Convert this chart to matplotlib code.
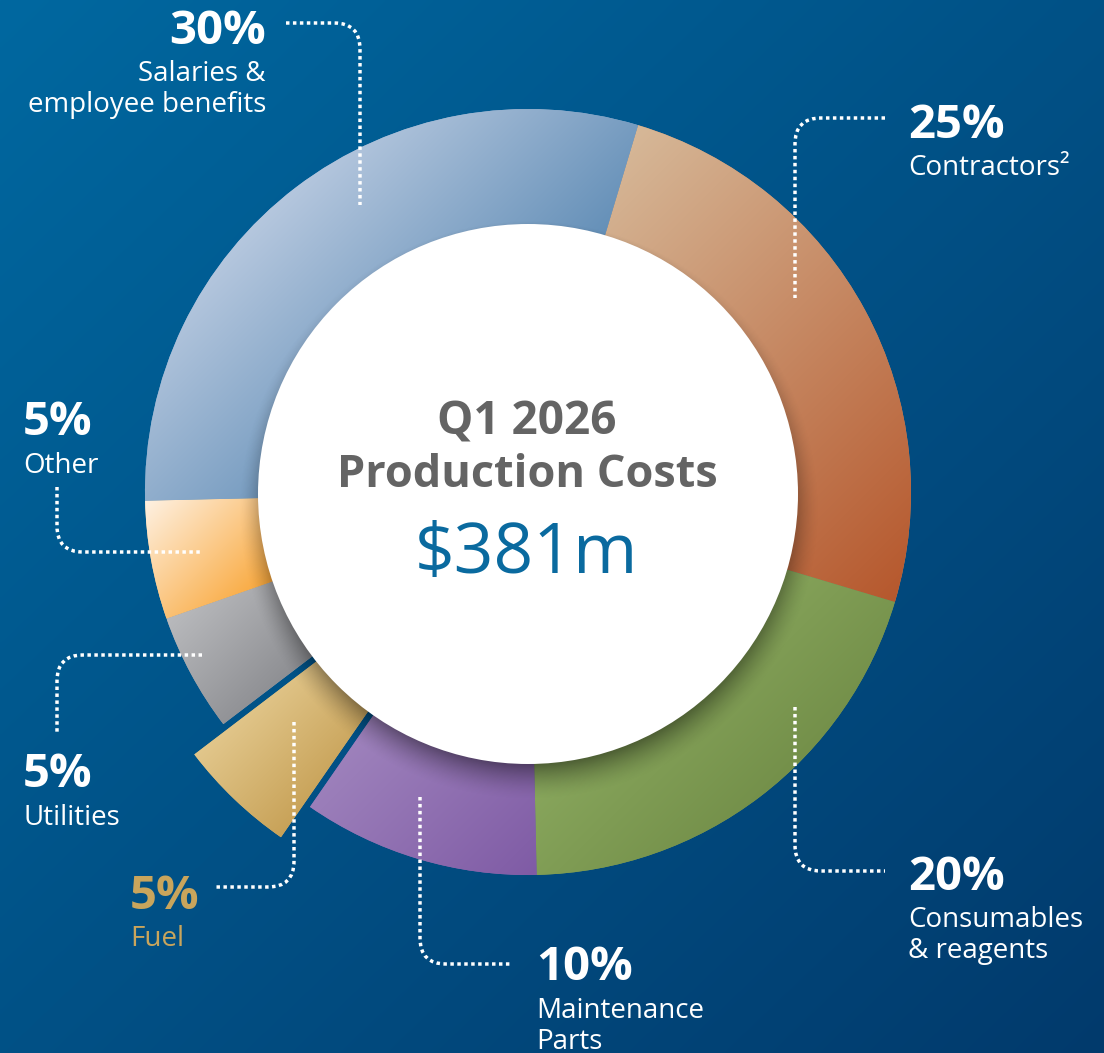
import numpy as np
import matplotlib
matplotlib.use('Agg')
import matplotlib.pyplot as plt
from matplotlib.path import Path
from matplotlib.patches import PathPatch, Circle
from matplotlib.colors import to_rgb

# ---------------- data ----------------
categories = ['Contractors', 'Consumables & reagents', 'Maintenance Parts', 'Fuel',
              'Utilities', 'Other', 'Salaries & employee benefits']
shares = [25, 20, 10, 5, 5, 5, 30]
pct_labels = ['25%', '20%', '10%', '5%', '5%', '5%', '30%']
label_lines = [['Contractors²'], ['Consumables', '& reagents'], ['Maintenance', 'Parts'],
               ['Fuel'], ['Utilities'], ['Other'], ['Salaries &', 'employee benefits']]
title_lines = ['Q1 2026', 'Production Costs']
total_label = '$381m'

# ---------------- style ----------------
W, H = 1104, 1053
FONT = ['Open Sans', 'DejaVu Sans']
plt.rcParams['font.family'] = FONT

grad_colors = [('#d6b898', '#b6582d'),   # contractors
               ('#8aa85e', '#74904a'),   # consumables
               ('#9e82bc', '#7f5ba5'),   # maintenance
               ('#e2c78c', '#c8a258'),   # fuel
               ('#b9babd', '#8d8e92'),   # utilities
               ('#fef1e2', '#f9a83c'),   # other
               ('#b5c7de', '#6590b8')]   # salaries
explode = [0, 0, 0, 42, 0, 0, 0]   # pixels (pie explode is in data units)
CX, CY, R = 528, 492, 383
R_IN = 270


def Y(y):
    return H - y


fig = plt.figure(figsize=(W / 100, H / 100), dpi=100)
ax = fig.add_axes([0, 0, 1, 1])

# background gradient
yy, xx = np.mgrid[0:H:3, 0:W:3].astype(float)
t = np.clip(xx / W * 0.5 + yy / H * 0.5, 0, 1)
c0 = np.array(to_rgb('#0068a0'))
c1 = np.array(to_rgb('#023a6c'))
bg = c0 + (c1 - c0) * t[..., None]
ax.imshow(bg, extent=(0, W, 0, H), origin='upper', zorder=0,
          interpolation='bilinear', aspect='auto')

# pie
wedges, _ = ax.pie(shares, radius=R, center=(CX, Y(CY)), startangle=73.3,
                   counterclock=False, explode=explode,
                   wedgeprops=dict(linewidth=0, edgecolor='none'))

for w, (ca, cb) in zip(wedges, grad_colors):
    ca = np.array(to_rgb(ca)); cb = np.array(to_rgb(cb))
    w.set_facecolor((ca + cb) / 2)
    w.set_zorder(1)
    verts = w.get_path().vertices
    x0, x1 = verts[:, 0].min(), verts[:, 0].max()
    y0, y1 = verts[:, 1].min(), verts[:, 1].max()
    cx, cy = w.center
    th1, th2 = np.deg2rad(w.theta1), np.deg2rad(w.theta2)
    angs = np.linspace(th1, th2, 300)
    pts = []
    for rr in (R_IN, R):
        pts.append(np.c_[cx + rr * np.cos(angs), cy + rr * np.sin(angs)])
    pts = np.vstack(pts)
    s_pts = pts[:, 0] + (H - pts[:, 1])
    smin, smax = s_pts.min(), s_pts.max()
    nx = max(int(x1 - x0), 2); ny = max(int(y1 - y0), 2)
    xs = np.linspace(x0, x1, nx)
    ys = np.linspace(y1, y0, ny)
    X, Yd = np.meshgrid(xs, ys)
    s = X + (H - Yd)
    tt = np.clip((s - smin) / (smax - smin), 0, 1)
    arr = ca + (cb - ca) * tt[..., None]
    im = ax.imshow(arr, extent=(x0, x1, y0, y1), origin='upper', zorder=2,
                   interpolation='bilinear', aspect='auto')
    im.set_clip_path(w)

# soft shadow around the white centre
sy, sx = np.mgrid[0:H:2, 0:W:2].astype(float)
dx = sx - CX; dy = sy - (CY + 2)
d = np.hypot(dx, dy) + 1e-6
down = dy / d
wband = 20 + 16 * down
band = np.clip(1 - (d - R_IN) / np.maximum(wband, 4), 0, 1) ** 1.6
alpha = 0.42 * (0.5 + 0.5 * down).clip(0.15, 1) * band
alpha[d > R + 30] = 0
sh = np.zeros(sx.shape + (4,))
sh[..., 3] = alpha
ax.imshow(sh, extent=(0, W, 0, H), origin='upper', zorder=3,
          interpolation='bilinear', aspect='auto')

ax.add_patch(Circle((CX, Y(CY + 2)), R_IN, facecolor='white', edgecolor='none', zorder=4))

# centre text
ax.text(527, Y(435), title_lines[0], ha='center', va='baseline', fontsize=33,
        fontweight='bold', color='#646464', zorder=6)
ax.text(527, Y(487), title_lines[1], ha='center', va='baseline', fontsize=32.5,
        fontweight='bold', color='#646464', zorder=6)
ax.text(526, Y(573), total_label, ha='center', va='baseline', fontsize=50,
        color='#0a6a9f', zorder=6)


# leader lines
def rounded(points, r):
    pts = [np.array(p, float) for p in points]
    verts = [pts[0]]
    codes = [Path.MOVETO]
    for i in range(1, len(pts) - 1):
        p0, p1, p2 = pts[i - 1], pts[i], pts[i + 1]
        v1 = (p0 - p1) / np.linalg.norm(p0 - p1)
        v2 = (p2 - p1) / np.linalg.norm(p2 - p1)
        verts += [p1 + v1 * r, p1, p1 + v2 * r]
        codes += [Path.LINETO, Path.CURVE3, Path.CURVE3]
    verts.append(pts[-1]); codes.append(Path.LINETO)
    verts = np.array(verts)
    verts[:, 1] = H - verts[:, 1]
    return Path(verts, codes)


leaders = [
    [(885, 118), (795, 118), (795, 298)],
    [(795, 707), (795, 871), (885, 871)],
    [(420, 797), (420, 964), (512, 964)],
    [(294, 722), (294, 887), (214, 887)],
    [(202, 655), (57, 655), (57, 733)],
    [(57, 487), (57, 552), (200, 552)],
    [(286, 23), (360, 23), (360, 205)],
]
for pts in leaders:
    ax.add_patch(PathPatch(rounded(pts, 26), facecolor='none', edgecolor='white',
                           linewidth=2.5, linestyle=(0, (1, 1.0)), capstyle='butt',
                           zorder=5))

# labels: (x, pct baseline, first text baseline, ha, color)
label_pos = [
    (908, 138, 175, 'left', 'white'),
    (908, 890, 927, 'left', 'white'),
    (536, 980, 1018, 'left', 'white'),
    (130, 909, 946, 'left', '#c9a55c'),
    (23, 787, 825, 'left', 'white'),
    (23, 435, 473, 'left', 'white'),
    (266, 44, 81, 'right', 'white'),
]
LINE_STEP = 31
for (x, yp, yt, ha, col), p, lines in zip(label_pos, pct_labels, label_lines):
    ax.text(x, Y(yp), p, ha=ha, va='baseline', fontsize=34, fontweight='bold',
            color=col, zorder=6)
    for k, line in enumerate(lines):
        ax.text(x, Y(yt + k * LINE_STEP), line, ha=ha, va='baseline', fontsize=20,
                color=col, zorder=6)

ax.set_xlim(0, W)
ax.set_ylim(0, H)
ax.set_aspect('auto')
ax.set_axis_off()
fig.savefig('out.png', dpi=100)
